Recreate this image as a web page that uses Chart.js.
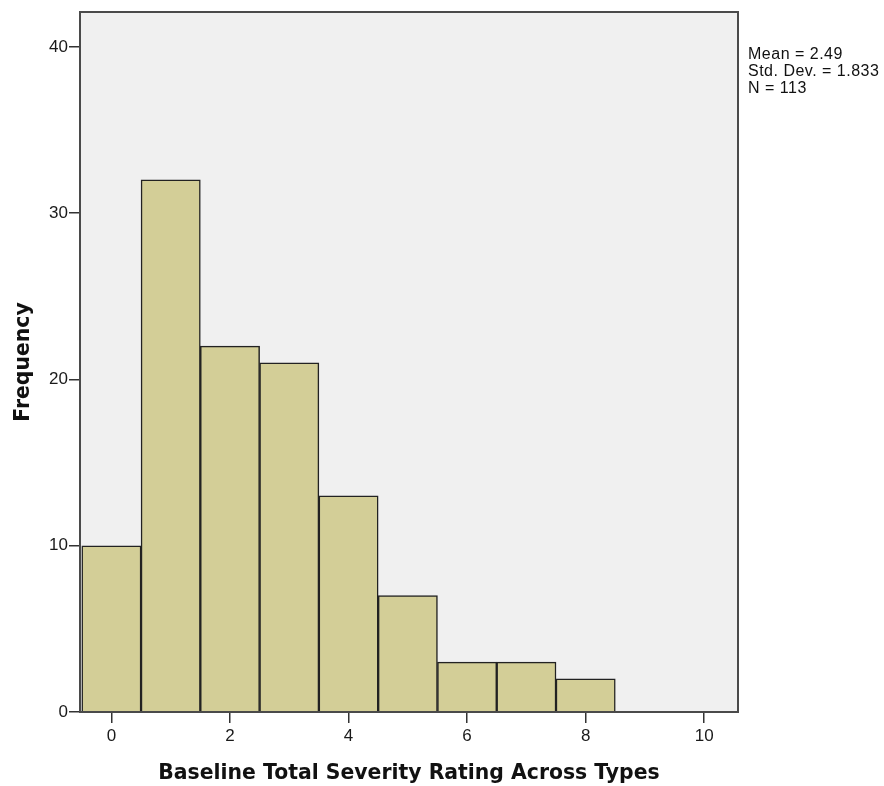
<!DOCTYPE html>
<html>
<head>
<meta charset="utf-8">
<script src="https://cdn.jsdelivr.net/npm/chart.js@4/dist/chart.umd.min.js"></script>
<style>
  html, body { margin: 0; padding: 0; background: #ffffff; }
  #wrap { width: 884px; height: 786px; }
</style>
</head>
<body>
<div id="wrap"><canvas id="c" width="884" height="786"></canvas></div>
<script>
const bins = [0, 1, 2, 3, 4, 5, 6, 7, 8];
const frequencies = [10, 32, 22, 21, 13, 7, 3, 3, 2];
const xTickValues = [0, 2, 4, 6, 8, 10];
const yTickValues = [0, 10, 20, 30, 40];
const statsLines = ["Mean = 2.49", "Std. Dev. = 1.833", "N = 113"];
const xTitle = "Baseline Total Severity Rating Across Types";
const yTitle = "Frequency";

const FONT = "'Liberation Sans', Arial, sans-serif";
const TITLE_FONT = "'DejaVu Sans', Verdana, sans-serif";

const framePlugin = {
  id: 'frame',
  beforeDatasetsDraw(chart) {
    const {ctx, chartArea: a} = chart;
    ctx.save();
    ctx.fillStyle = '#f0f0f0';
    ctx.fillRect(a.left, a.top, a.right - a.left, a.bottom - a.top);
    ctx.restore();
  },
  afterDatasetsDraw(chart) {
    const {ctx, chartArea: a} = chart;
    ctx.save();
    ctx.strokeStyle = '#4a4a4a';
    ctx.lineWidth = 2;
    ctx.strokeRect(a.left, a.top, a.right - a.left, a.bottom - a.top);
    ctx.restore();
  },
  afterDraw(chart) {
    const {ctx, chartArea: a} = chart;
    ctx.save();
    ctx.fillStyle = '#111';
    ctx.font = '16px ' + FONT;
    if ('letterSpacing' in ctx) ctx.letterSpacing = '0.5px';
    ctx.textBaseline = 'middle';
    ctx.textAlign = 'left';
    statsLines.forEach((s, i) => ctx.fillText(s, a.right + 10, 55 + i * 17));
    ctx.restore();
  }
};

new Chart(document.getElementById('c'), {
  type: 'bar',
  data: {
    datasets: [{
      data: bins.map((b, i) => ({x: b, y: frequencies[i]})),
      backgroundColor: '#d3ce97',
      borderColor: '#222222',
      borderWidth: 1.5,
      barPercentage: 1,
      categoryPercentage: 1
    }]
  },
  plugins: [framePlugin],
  options: {
    responsive: false,
    animation: false,
    events: [],
    layout: { padding: { top: 12, right: 146, left: 0, bottom: 0 } },
    plugins: { legend: { display: false }, tooltip: { enabled: false } },
    scales: {
      x: {
        type: 'linear',
        offset: false,
        min: -0.53,
        max: 10.57,
        afterBuildTicks(scale) { scale.ticks = xTickValues.map(v => ({value: v})); },
        afterFit(scale) { scale.height = 74; },
        grid: { offset: false, drawOnChartArea: false, drawTicks: true, tickLength: 11, color: '#333', lineWidth: 1.5 },
        border: { display: false },
        ticks: { font: { family: FONT, size: 17 }, color: '#1a1a1a', padding: 3, maxRotation: 0, autoSkip: false },
        title: { display: true, text: xTitle, font: { family: TITLE_FONT, size: 20.4, weight: 'bold' }, color: '#111', padding: { top: 10, bottom: 0 } }
      },
      y: {
        type: 'linear',
        min: 0,
        max: 42.1,
        afterBuildTicks(scale) { scale.ticks = yTickValues.map(v => ({value: v})); },
        afterFit(scale) { scale.width = 80; },
        grid: { drawOnChartArea: false, drawTicks: true, tickLength: 11, color: '#333', lineWidth: 1.5 },
        border: { display: false },
        ticks: { font: { family: FONT, size: 17 }, color: '#1a1a1a', padding: 1 },
        title: { display: true, text: yTitle, font: { family: TITLE_FONT, size: 20.4, weight: 'bold' }, color: '#111', padding: { top: 11, bottom: 0 } }
      }
    }
  }
});
</script>
</body>
</html>
